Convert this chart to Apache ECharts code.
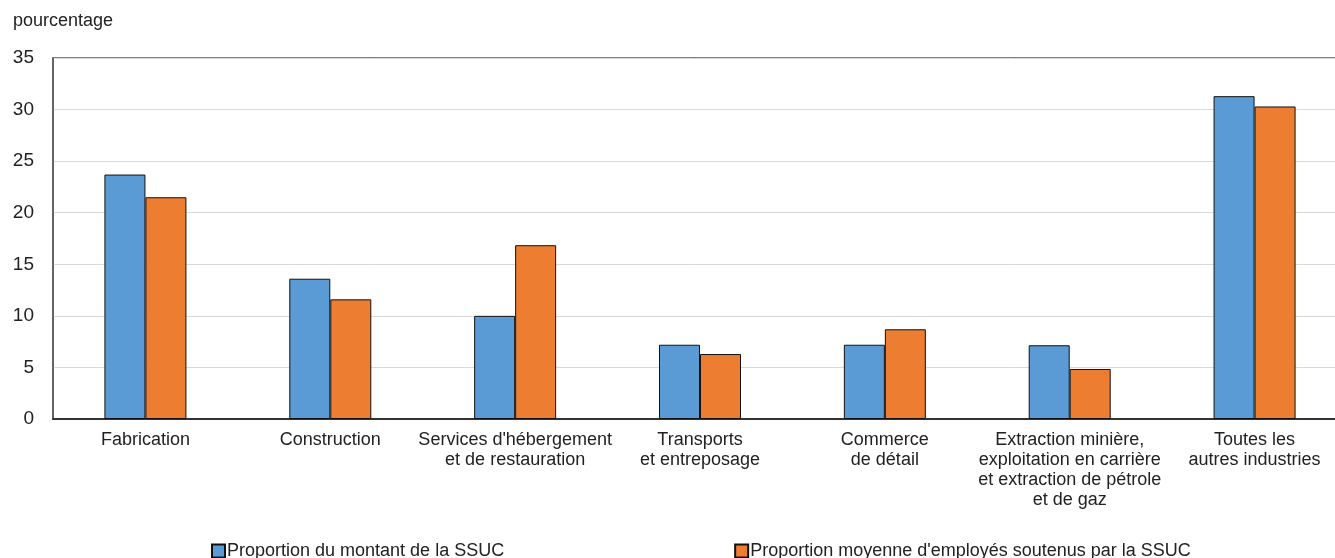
<!DOCTYPE html>
<html>
<head>
<meta charset="utf-8">
<script src="https://cdn.jsdelivr.net/npm/echarts@6/dist/echarts.min.js"></script>
<style>
  html, body { margin: 0; padding: 0; background: #fff; }
  #chart { width: 1335px; height: 558px; }
</style>
</head>
<body>
<div id="chart"></div>
<script>
// catégories (retours à la ligne comme dans l'original)
const categories = [
  "Fabrication",
  "Construction",
  "Services d'hébergement\net de restauration",
  "Transports\net entreposage",
  "Commerce\nde détail",
  "Extraction minière,\nexploitation en carrière\net extraction de pétrole\net de gaz",
  "Toutes les\nautres industries",
];
const seriesNames = [
  "Proportion du montant de la SSUC",
  "Proportion moyenne d'employés soutenus par la SSUC",
];
const montant = [23.7, 13.6, 10.0, 7.2, 7.2, 7.15, 31.3];
const employes = [21.5, 11.6, 16.85, 6.3, 8.7, 4.85, 30.3];

const font = "'Liberation Sans', Arial, sans-serif";
const colors = ["#5b9bd5", "#ed7d31"];

const chart = echarts.init(document.getElementById("chart"));
chart.setOption({
  animation: false,
  title: {
    text: "pourcentage",
    left: 8,
    top: 7,
    textStyle: { fontFamily: font, fontSize: 18, fontWeight: "normal", color: "#222" },
  },
  legend: {
    data: seriesNames,
    left: 206,
    top: 537,
    itemWidth: 13,
    itemHeight: 13,
    itemGap: 230,
    icon: "rect",
    textStyle: { fontFamily: font, fontSize: 18, color: "#222", padding: [0, 0, 0, -3] },
  },
  grid: {
    left: 53,
    top: 58,
    width: 1294,
    height: 361,
    outerBoundsMode: "none",
    containLabel: false,
    show: true,
    borderColor: "#595959",
    borderWidth: 1.5,
  },
  xAxis: {
    type: "category",
    data: categories,
    axisTick: { show: false },
    axisLine: { lineStyle: { color: "#333", width: 2 } },
    axisLabel: {
      interval: 0,
      margin: 11,
      fontFamily: font,
      fontSize: 18,
      lineHeight: 20,
      color: "#222",
    },
  },
  yAxis: {
    type: "value",
    min: 0,
    max: 35,
    interval: 5,
    axisLine: { show: true, lineStyle: { color: "#595959", width: 1.5 } },
    axisTick: { show: false },
    splitLine: { lineStyle: { color: "#d9d9d9", width: 1 } },
    axisLabel: { margin: 19, fontFamily: font, fontSize: 19, color: "#222" },
  },
  series: [
    {
      name: seriesNames[0],
      type: "bar",
      data: montant,
      barWidth: 41,
      barGap: "0%",
      itemStyle: { color: colors[0], borderColor: "#111", borderWidth: 1 },
    },
    {
      name: seriesNames[1],
      type: "bar",
      data: employes,
      barWidth: 41,
      barGap: "0%",
      itemStyle: { color: colors[1], borderColor: "#111", borderWidth: 1 },
    },
  ],
});
window.onresize = chart.resize;
</script>
</body>
</html>
